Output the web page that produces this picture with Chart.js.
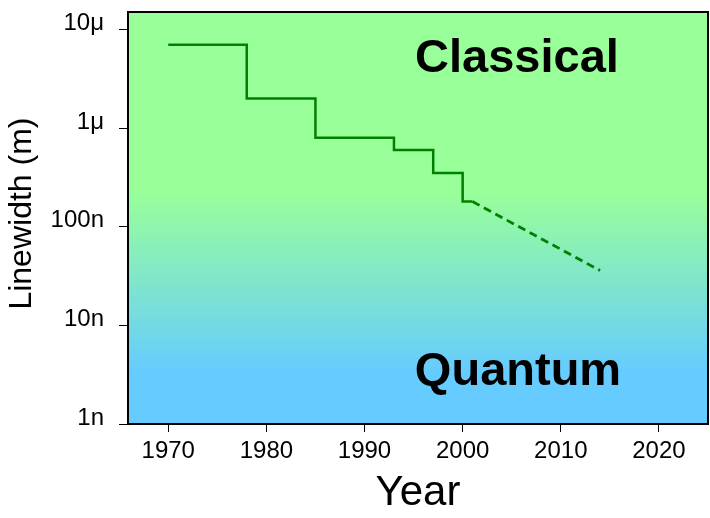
<!DOCTYPE html>
<html>
<head>
<meta charset="utf-8">
<script src="https://cdn.jsdelivr.net/npm/chart.js@4/dist/chart.umd.min.js"></script>
<style>
  html, body { margin: 0; padding: 0; background: #fff; }
  #wrap { width: 710px; height: 518px; }
</style>
</head>
<body>
<div id="wrap"><canvas id="grafico"></canvas></div>
<script>
// datos
const anios = [1970, 1978, 1985, 1993, 1997, 2000, 2001];
const anchos = [7e-6, 2e-6, 8e-7, 6e-7, 3.5e-7, 1.8e-7, 1.8e-7];
const aniosProyeccion = [2001, 2014];
const anchosProyeccion = [1.8e-7, 3.6e-8];

const yTicks = [1e-9, 1e-8, 1e-7, 1e-6, 1e-5];
const yTickLabels = ['1n', '10n', '100n', '1μ', '10μ'];
const xTicks = [1970, 1980, 1990, 2000, 2010, 2020];

const fuente = "'Liberation Sans', Arial, sans-serif";
const verde = '#008000';

const fondo = {
  id: 'fondo',
  beforeDatasetsDraw(chart) {
    const {ctx, chartArea: a} = chart;
    const g = ctx.createLinearGradient(0, a.top, 0, a.bottom);
    const h = a.bottom - a.top;
    g.addColorStop(0, '#99ff99');
    g.addColorStop((192 - a.top) / h, '#99ff99');
    g.addColorStop((372 - a.top) / h, '#66ccff');
    g.addColorStop(1, '#66ccff');
    ctx.save();
    ctx.fillStyle = g;
    ctx.fillRect(a.left, a.top, a.right - a.left, a.bottom - a.top);
    ctx.font = 'bold 47px ' + fuente;
    ctx.fillStyle = '#000';
    ctx.textAlign = 'center';
    ctx.textBaseline = 'alphabetic';
    ctx.fillText('Classical', 517, 72);
    ctx.fillText('Quantum', 518, 385);
    ctx.restore();
  },
  afterDraw(chart) {
    const {ctx, chartArea: a} = chart;
    ctx.save();
    ctx.strokeStyle = '#000';
    ctx.lineWidth = 2;
    ctx.strokeRect(a.left, a.top, a.right - a.left, a.bottom - a.top);
    ctx.restore();
  }
};

new Chart(document.getElementById('grafico').getContext('2d'), {
  type: 'line',
  data: {
    datasets: [{
      data: anios.map((x, i) => ({x: x, y: anchos[i]})),
      borderColor: verde,
      borderWidth: 2.5,
      stepped: 'before',
      pointRadius: 0
    }, {
      data: aniosProyeccion.map((x, i) => ({x: x, y: anchosProyeccion[i]})),
      borderColor: verde,
      borderWidth: 2.8,
      borderDash: [8, 5],
      pointRadius: 0
    }]
  },
  options: {
    responsive: true,
    maintainAspectRatio: false,
    animation: false,
    layout: {padding: {top: 12, right: 2, left: 0, bottom: 0}},
    plugins: {legend: {display: false}, tooltip: {enabled: false}},
    scales: {
      x: {
        type: 'linear',
        min: 1965.9,
        max: 2025,
        afterBuildTicks: s => { s.ticks = xTicks.map(v => ({value: v})); },
        afterFit: s => { s.height = 94; s.paddingLeft = 0; s.paddingRight = 0; },
        grid: {display: true, drawOnChartArea: false, drawTicks: true, tickLength: 8, color: '#000', lineWidth: 1},
        border: {display: true, color: '#000', width: 2},
        ticks: {color: '#000', font: {family: fuente, size: 24}, padding: 5, maxRotation: 0,
          callback: v => String(v)},
        title: {display: true, text: 'Year', color: '#000', font: {family: fuente, size: 42, lineHeight: 1.1}, padding: 1}
      },
      y: {
        type: 'logarithmic',
        min: 1e-9,
        max: 1.505e-5,
        afterBuildTicks: s => { s.ticks = yTicks.map(v => ({value: v})); },
        afterFit: s => { s.width = 128; s.paddingTop = 0; s.paddingBottom = 0; },
        grid: {display: true, drawOnChartArea: false, drawTicks: true, tickLength: 9, color: '#000', lineWidth: 1},
        border: {display: true, color: '#000', width: 2},
        ticks: {color: '#000', font: {family: fuente, size: 24, lineHeight: 0.5}, padding: 15,
          callback: (v, i) => [yTickLabels[i], '']},
        title: {display: true, text: ' Linewidth (m)', color: '#000', font: {family: fuente, size: 32, lineHeight: 1.2}, padding: 3}
      }
    }
  },
  plugins: [fondo]
});
</script>
</body>
</html>
